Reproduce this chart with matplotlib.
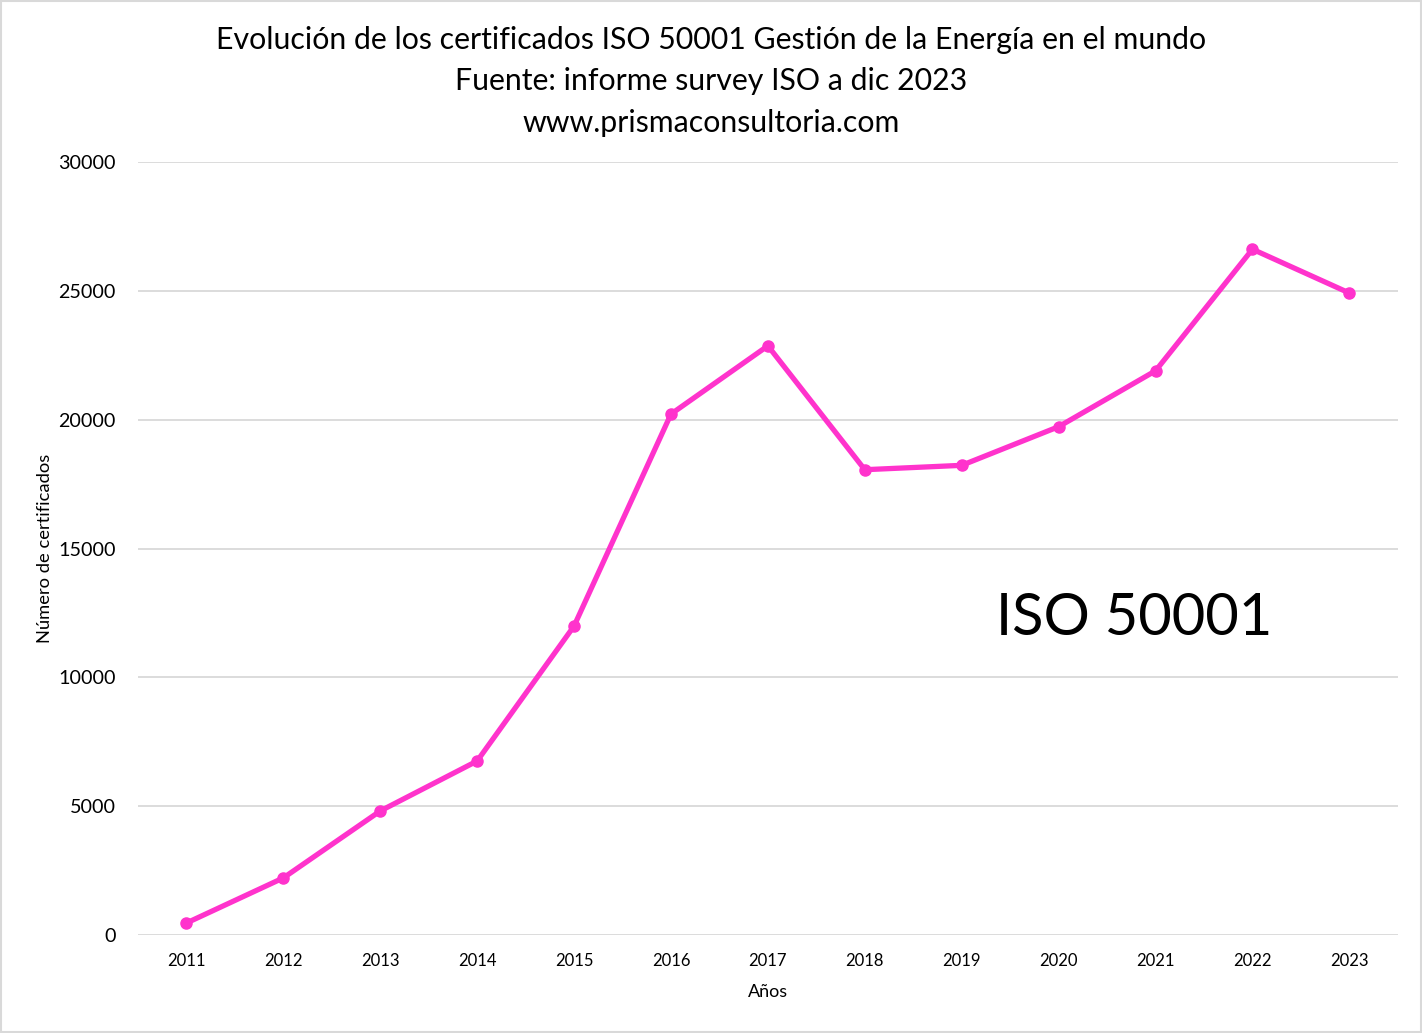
import matplotlib
matplotlib.use('Agg')
import matplotlib.pyplot as plt

plt.rcParams['font.family'] = ['Lato', 'DejaVu Sans']

# datos
anios = ['2011', '2012', '2013', '2014', '2015', '2016', '2017',
         '2018', '2019', '2020', '2021', '2022', '2023']
certificados = [460, 2210, 4810, 6750, 11990, 20220, 22870,
                18060, 18230, 19730, 21900, 26620, 24920]
y_ticks = [0, 5000, 10000, 15000, 20000, 25000, 30000]

titulo = ('Evolución de los certificados ISO 50001 Gestión de la Energía en el mundo\n'
          'Fuente: informe survey ISO a dic 2023\n'
          'www.prismaconsultoria.com')

fig = plt.figure(figsize=(14.22, 10.33), dpi=100)
ax = fig.add_axes([0.097, 0.095, 0.886, 0.748])

x = list(range(len(anios)))
ax.plot(x, certificados, color='#FF33CC', linewidth=3.8, marker='o',
        markersize=8, zorder=3)

ax.set_xlim(-0.5, len(anios) - 0.5)
ax.set_ylim(0, 30000)
ax.set_xticks(x)
ax.set_xticklabels(anios, fontsize=12)
ax.set_yticks(y_ticks)
ax.set_yticklabels([str(v) for v in y_ticks], fontsize=14.2)
ax.tick_params(length=0)
ax.tick_params(axis='x', pad=13)
ax.tick_params(axis='y', pad=16)
ax.grid(axis='y', color='#D9D9D9', linewidth=1.3)
ax.set_axisbelow(True)
for s in ax.spines.values():
    s.set_visible(False)

ax.set_xlabel('Años', fontsize=13, labelpad=11)
ax.set_ylabel('Número de certificados', fontsize=13.2, labelpad=4)

fig.text(0.5, 0.975, titulo, ha='center', va='top', fontsize=21.8,
         linespacing=1.58)
ax.text(0.791, 0.409, 'ISO 50001', transform=ax.transAxes, ha='center',
        va='center', fontsize=41.7)

# borde del gráfico
fig.patches.append(plt.Rectangle((0.001, 0.001), 0.998, 0.998,
                                 transform=fig.transFigure, fill=False,
                                 edgecolor='#D9D9D9', linewidth=1.5))

fig.savefig('out.png', dpi=100)
